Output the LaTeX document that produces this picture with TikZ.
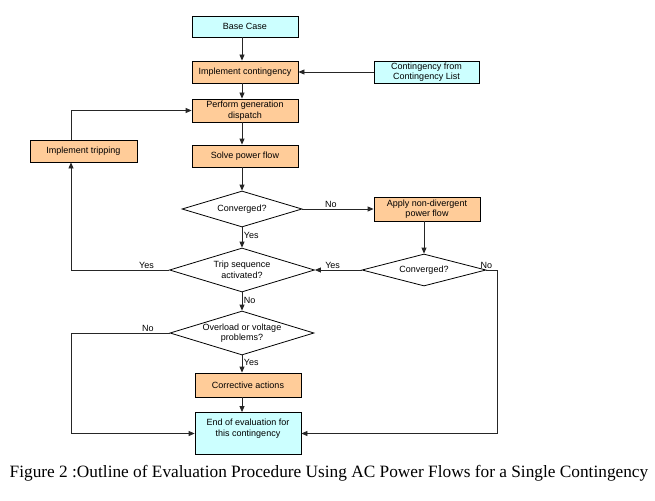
\documentclass[tikz,border=0pt]{standalone}
\usepackage{fontspec}
\setmainfont{Liberation Serif}
\newfontfamily\arialf{Liberation Sans}
\usetikzlibrary{arrows.meta,shapes.geometric}
\definecolor{peach}{HTML}{FFCC99}
\definecolor{lcyan}{HTML}{CCFFFF}
\begin{document}
\begin{tikzpicture}[x=1pt,y=-1pt,
  txt/.style={font=\arialf\fontsize{9}{10.5}\selectfont},
  box/.style={txt, draw=black, line width=0.8pt, minimum width=106pt, minimum height=22pt, inner sep=1pt, align=center},
  proc/.style={box, fill=peach},
  term/.style={box, fill=lcyan},
  dec/.style={txt, diamond, draw=black, line width=0.8pt, fill=white, inner sep=0pt, shape aspect=3.4, align=center},
  arr/.style={-{Triangle[length=6pt,width=5pt]}, line width=0.8pt, draw=black!85},
  lbl/.style={txt, inner sep=1.5pt}
]
\useasboundingbox (0,0) rectangle (655,500);

\node[term, minimum height=21pt] (base) at (245,26.5) {Base Case};
\node[proc] (impl) at (245,72) {Implement contingency};
\node[term, minimum width=105pt] (clist) at (426.5,72) {Contingency from\\Contingency List};
\node[proc, minimum height=23pt] (gen) at (245,110.5) {Perform generation\\dispatch};
\node[proc] (solve) at (245,156) {Solve power flow};
\node[proc, minimum width=107pt] (trip) at (83.5,151) {Implement tripping};
\coordinate (lcol) at (71,151);
\node[dec, minimum width=120pt, minimum height=36pt] (conv1) at (242,209) {Converged?};
\node[proc, minimum height=24pt] (apply) at (427,209) {Apply non-divergent\\power flow};
\node[dec, minimum width=145pt, minimum height=44pt] (tripq) at (242,270) {Trip sequence\\activated?};
\node[dec, minimum width=124pt, minimum height=32pt] (conv2) at (424,270) {Converged?};
\node[dec, minimum width=144pt, minimum height=44pt] (over) at (242,333) {Overload or voltage\\problems?};
\node[proc, minimum height=24pt] (corr) at (248,385) {Corrective actions};
\node[term, minimum height=42pt] (end) at (248,433.5) {};
\node[txt, align=center] (endtxt) at (248,428.5) {End of evaluation for\\this contingency};

\node[font=\fontsize{17.3}{19}\selectfont] (cap) at (329,473) {Figure 2 :Outline of Evaluation Procedure Using AC Power Flows for a Single Contingency};

\draw[arr] (base.south -| conv1.north) -- (impl.north -| conv1.north);
\draw[arr] (clist.west) -- (impl.east);
\draw[arr] (impl.south -| conv1.north) -- (gen.north -| conv1.north);
\draw[arr] (gen.south -| conv1.north) -- (solve.north -| conv1.north);
\draw[arr] (solve.south -| conv1.north) -- (conv1.north);
\draw[arr] (conv1.east) -- node[lbl, above, pos=0.4] {No} (apply.west);
\draw[arr] (conv1.south) -- node[lbl, right, pos=0.4] {Yes} (tripq.north);
\draw[arr] (apply.south -| conv2.north) -- (conv2.north);
\draw[arr] (conv2.west) -- node[lbl, above, pos=0.62] {Yes} (tripq.east);
\draw[arr] (conv2.east) -- ++(11,0) |- (end.east);
\node[lbl, anchor=south] (no2) at (conv2.east) {No};
\draw[arr] (tripq.west) -- node[lbl, above, pos=0.23] {Yes} (tripq.west -| lcol) -- (trip.south -| lcol);
\draw[arr] (trip.north -| lcol) |- (gen.west);
\draw[arr] (tripq.south) -- node[lbl, right, pos=0.45] {No} (over.north);
\draw[arr] (over.west) -- node[lbl, above, pos=0.22] {No} (over.west -| lcol) |- (end.west);
\draw[arr] (over.south) -- node[lbl, right, pos=0.4] {Yes} (over.south |- corr.north);
\draw[arr] (corr.south -| over.south) -- (end.north -| over.south);
\end{tikzpicture}
\end{document}
